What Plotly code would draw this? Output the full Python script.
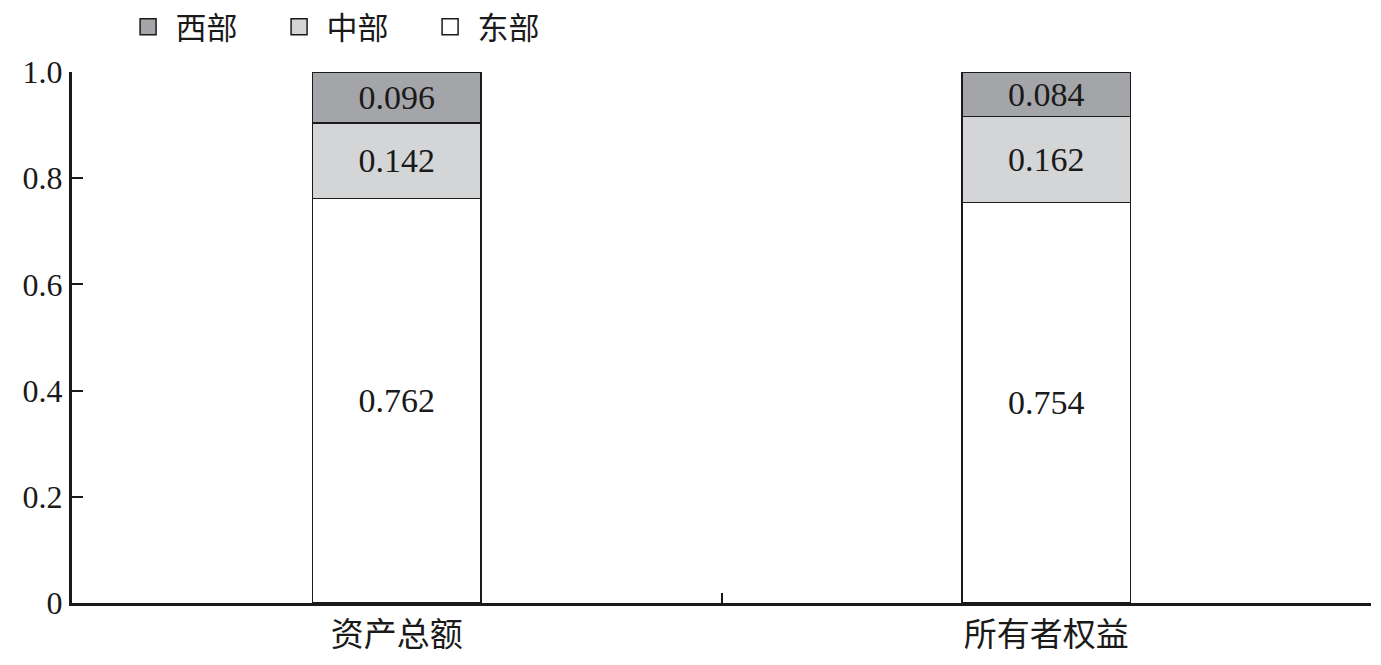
import plotly.graph_objects as go

categories = ["资产总额", "所有者权益"]
east = [0.762, 0.754]
central = [0.142, 0.162]
west = [0.096, 0.084]

font_family = "Liberation Serif, Noto Sans CJK SC"
colors = {"东部": "#ffffff", "中部": "#d4d5d7", "西部": "#a4a5a8"}

fig = go.Figure()
for name, vals in [("东部", east), ("中部", central), ("西部", west)]:
    fig.add_trace(go.Bar(
        x=categories, y=vals, name=name, showlegend=False,
        marker=dict(color=colors[name], line=dict(color="#1a1a1a", width=1.5)),
        width=0.26,
        text=[f"{v:.3f}" for v in vals],
        textposition="inside", insidetextanchor="middle",
        textfont=dict(size=34, color="#1a1a1a", family=font_family),
        textangle=0,
    ))

# legend entries with larger square swatches
for name in ["西部", "中部", "东部"]:
    fig.add_trace(go.Scatter(
        x=[None], y=[None], mode="markers", name=name,
        marker=dict(symbol="square", size=16, color=colors[name],
                    line=dict(color="#1a1a1a", width=1.5)),
    ))

# page body has an 8px margin, so the figure is sized to fill the rest
fig.update_layout(
    barmode="stack",
    width=1373, height=657,
    margin=dict(l=64, r=10, t=64, b=62, autoexpand=False),
    paper_bgcolor="white", plot_bgcolor="white",
    font=dict(family=font_family, size=32, color="#1a1a1a"),
    legend=dict(orientation="h", xref="container", yref="container",
                traceorder="normal", itemwidth=45,
                x=0.082, y=0.971, xanchor="left", yanchor="middle",
                font=dict(size=31), entrywidth=91, entrywidthmode="pixels"),
    uniformtext=dict(minsize=20, mode="show"),
)
fig.update_xaxes(
    automargin=False,
    showline=True, linecolor="#1a1a1a", linewidth=3,
    ticks="inside", tickson="boundaries", ticklen=10, tickwidth=2,
    tickcolor="#1a1a1a", showgrid=False, tickfont=dict(size=33),
)
fig.update_yaxes(
    automargin=False,
    range=[0, 1.0], tickvals=[0, 0.2, 0.4, 0.6, 0.8, 1.0],
    ticktext=["0", "0.2", "0.4", "0.6", "0.8", "1.0"],
    showline=True, linecolor="#1a1a1a", linewidth=3,
    ticks="inside", ticklen=11, tickwidth=2, tickcolor="#1a1a1a",
    showgrid=False, zeroline=False,
)

fig.write_html("out.html")
